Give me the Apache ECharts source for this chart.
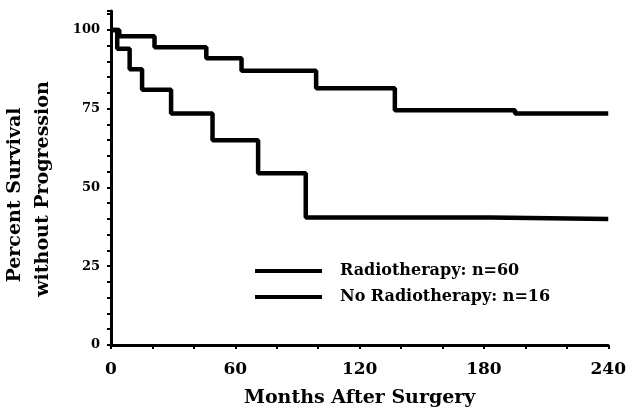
<!DOCTYPE html>
<html>
<head>
<meta charset="utf-8">
<script src="https://cdn.jsdelivr.net/npm/echarts@6/dist/echarts.min.js"></script>
<style>
  html, body { margin: 0; padding: 0; background: #fff; }
  #chart { width: 629px; height: 413px; }
</style>
</head>
<body>
<div id="chart"></div>
<script>
// Kaplan-Meier step points (months, percent)
var radioMonths = [0, 4, 21, 46, 63, 99, 137, 195, 240];
var radioPct = [100, 98, 94.5, 91, 87, 81.5, 74.5, 73.5, 73.5];
var noRadioMonths = [0, 3, 9, 15, 29, 49, 71, 94, 183, 240];
var noRadioPct = [100, 94, 87.5, 81, 73.5, 65, 54.5, 40.5, 40, 40];
var seriesNames = ['Radiotherapy: n=60', 'No Radiotherapy: n=16'];
var xLabelStep = 60;
var yLabelStep = 25;

var serif = 'DejaVu Serif';

function pairs(xs, ys) {
    return xs.map(function (x, i) {
        return [x, ys[i]];
    });
}

var chart = echarts.init(document.getElementById('chart'));

chart.setOption({
    animation: false,
    backgroundColor: '#fff',
    grid: { left: 111, right: 16, top: 11, bottom: 67 },
    legend: {
        orient: 'vertical',
        left: 255,
        top: 263,
        padding: 0,
        itemWidth: 67,
        itemHeight: 14,
        itemGap: 10,
        icon: 'path://M0,5 L67,5 L67,9 L0,9 Z',
        data: seriesNames,
        textStyle: {
            color: '#000',
            fontFamily: serif,
            fontWeight: 'bold',
            fontSize: 16,
            padding: [0, 0, 0, 13]
        }
    },
    xAxis: {
        type: 'value',
        min: 0,
        max: 240,
        interval: 20,
        name: 'Months After Surgery',
        nameLocation: 'middle',
        nameGap: 44,
        nameTextStyle: {
            color: '#000',
            fontFamily: serif,
            fontWeight: 'bold',
            fontSize: 19
        },
        splitLine: { show: false },
        axisLine: { lineStyle: { color: '#000', width: 3 } },
        axisTick: { length: 4, lineStyle: { color: '#000', width: 2 } },
        axisLabel: {
            color: '#000',
            fontFamily: serif,
            fontWeight: 'bold',
            fontSize: 17,
            margin: 16,
            formatter: function (v) {
                return v % xLabelStep === 0 ? String(v) : '';
            }
        }
    },
    yAxis: {
        type: 'value',
        min: 0,
        max: 106,
        interval: 5,
        splitLine: { show: false },
        axisLine: { lineStyle: { color: '#000', width: 3 } },
        axisTick: { length: 4, lineStyle: { color: '#000', width: 2 } },
        axisLabel: {
            color: '#000',
            fontFamily: serif,
            fontWeight: 'bold',
            fontSize: 13,
            margin: 11,
            formatter: function (v) {
                return v % yLabelStep === 0 ? String(v) : '';
            }
        }
    },
    graphic: [
        {
            type: 'text',
            x: 15,
            y: 195,
            rotation: Math.PI / 2,
            style: {
                text: 'Percent Survival',
                fill: '#000',
                font: 'bold 19px "DejaVu Serif"',
                textAlign: 'center',
                textVerticalAlign: 'middle'
            }
        },
        {
            type: 'text',
            x: 43,
            y: 189,
            rotation: Math.PI / 2,
            style: {
                text: 'without Progression',
                fill: '#000',
                font: 'bold 19px "DejaVu Serif"',
                textAlign: 'center',
                textVerticalAlign: 'middle'
            }
        }
    ],
    series: [
        {
            name: seriesNames[0],
            type: 'line',
            step: 'end',
            showSymbol: false,
            data: pairs(radioMonths, radioPct),
            lineStyle: { color: '#000', width: 4.5 },
            itemStyle: { color: '#000' }
        },
        {
            name: seriesNames[1],
            type: 'line',
            step: 'end',
            showSymbol: false,
            data: pairs(noRadioMonths, noRadioPct),
            lineStyle: { color: '#000', width: 4.5 },
            itemStyle: { color: '#000' }
        }
    ]
});
</script>
</body>
</html>
